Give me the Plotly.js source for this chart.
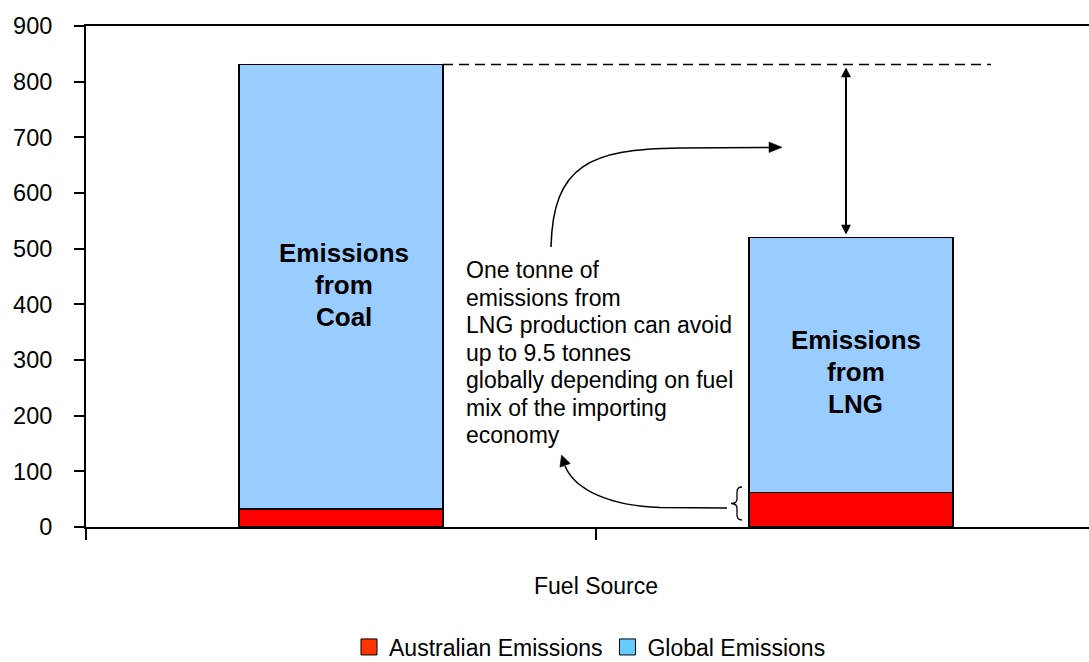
<!DOCTYPE html>
<html><head><meta charset="utf-8">
<script src="https://cdn.plot.ly/plotly-3.0.1.min.js"></script>
<style>html,body{margin:0;padding:0;background:#fff;overflow:hidden}</style>
</head><body><div id="chart" style="width:1089px;height:662px"></div>
<script>
// ---- data ----
const categories = ['Coal', 'LNG'];
const australianEmissions = [32, 62];
const globalEmissions = [799, 458];
const seriesNames = ['Australian Emissions', 'Global Emissions'];
const yTickValues = [0, 100, 200, 300, 400, 500, 600, 700, 800, 900];
const barLabels = [['Emissions', 'from', 'Coal'], ['Emissions', 'from', 'LNG']];
const noteLines = ['One tonne of', 'emissions from', 'LNG production can avoid', 'up to 9.5 tonnes',
  'globally depending on fuel', 'mix of the importing', 'economy'];
const xTitle = 'Fuel Source';

// ---- layout helpers ----
const W = 1089, H = 662, M = {l: 86, r: 0, t: 26, b: 135};
const plotW = W - M.l - M.r, plotH = H - M.t - M.b;
const catPx = 510;                       // pixel width of one category slot
const X = px => (px - M.l) / plotW;      // pixel -> paper x
const Y = py => (H - M.b - py) / plotH;  // pixel -> paper y
const p = (x, y) => X(x).toFixed(5) + ',' + Y(y).toFixed(5);
const FONT = 'Liberation Sans, Arial, Helvetica, sans-serif';
const barWidth = 0.4;
const barColors = ['#FF0000', '#99CCFF'];
const legendColors = ['#FF3300', '#66CCFF'];

const totals = categories.map((c, i) => australianEmissions[i] + globalEmissions[i]);

const traces = [
  {type: 'bar', name: seriesNames[0], x: categories, y: australianEmissions, width: barWidth, showlegend: false,
   marker: {color: barColors[0], line: {color: '#000', width: 1.5}}},
  {type: 'bar', name: seriesNames[1], x: categories, y: globalEmissions, width: barWidth, showlegend: false,
   marker: {color: barColors[1], line: {color: '#000', width: 1.5}}},
  // legend entries (larger square swatches)
  {type: 'scatter', mode: 'markers', name: seriesNames[0], x: [categories[0]], y: [null], showlegend: true,
   marker: {symbol: 'square', size: 22, color: legendColors[0], line: {color: '#000', width: 1}}},
  {type: 'scatter', mode: 'markers', name: seriesNames[1], x: [categories[0]], y: [null], showlegend: true,
   marker: {symbol: 'square', size: 22, color: legendColors[1], line: {color: '#000', width: 1}}}
];

const annotations = [];
// labels inside bars
const labelCenters = [[343.7, [253, 285, 317]], [855.5, [340, 372, 404]]];
barLabels.forEach((lines, i) => {
  lines.forEach((t, j) => {
    annotations.push({xref: 'paper', yref: 'paper', x: X(labelCenters[i][0]), y: Y(labelCenters[i][1][j]),
      xanchor: 'center', yanchor: 'middle', showarrow: false, text: '<b>' + t + '</b>',
      font: {family: FONT, size: 26, color: '#000'}});
  });
});
// note text
noteLines.forEach((t, j) => {
  annotations.push({xref: 'paper', yref: 'paper', x: X(464), y: Y(270 + 27.5 * j),
    xanchor: 'left', yanchor: 'middle', showarrow: false, text: t,
    font: {family: FONT, size: 23, color: '#000'}});
});
// x axis title
annotations.push({xref: 'x', yref: 'paper', x: 0.5, y: Y(586), xanchor: 'center', yanchor: 'middle',
  showarrow: false, text: xTitle, font: {family: FONT, size: 23, color: '#000'}});
// double-headed vertical arrow between totals
const arrowX = (846 - (M.l + catPx / 2)) / catPx;
[[totals[0], totals[1]], [totals[1], totals[0]]].forEach(([head, tail]) => {
  annotations.push({xref: 'x', yref: 'y', axref: 'x', ayref: 'y', x: arrowX, y: head, ax: arrowX, ay: tail,
    showarrow: true, arrowhead: 2, arrowsize: 1.1, arrowwidth: 1.8, arrowcolor: '#000',
    standoff: 3, startstandoff: 3, text: ''});
});

const shapes = [
  // dashed reference line at coal total
  {type: 'line', xref: 'x', yref: 'y', x0: barWidth / 2, x1: (991 - (M.l + catPx / 2)) / catPx,
   y0: totals[0], y1: totals[0], line: {color: '#000', width: 1.5, dash: '10px,6px'}},
  // top curved arrow
  {type: 'path', xref: 'paper', yref: 'paper',
   path: `M${p(551, 247)} C${p(553, 165)} ${p(590, 149)} ${p(680, 148)} L${p(771, 147.5)}`,
   line: {color: '#000', width: 1.5}},
  {type: 'path', xref: 'paper', yref: 'paper',
   path: `M${p(782, 147.3)} L${p(769, 142)} L${p(769, 152.6)} Z`,
   fillcolor: '#000', line: {color: '#000', width: 0.5}},
  // bottom curved arrow
  {type: 'path', xref: 'paper', yref: 'paper',
   path: `M${p(727, 508)} L${p(660, 507.5)} C${p(610, 506)} ${p(575, 490)} ${p(565, 466)}`,
   line: {color: '#000', width: 1.5}},
  {type: 'path', xref: 'paper', yref: 'paper',
   path: `M${p(561.5, 455)} L${p(570.3, 463.6)} L${p(559.9, 467.2)} Z`,
   fillcolor: '#000', line: {color: '#000', width: 0.5}},
  // brace
  {type: 'path', xref: 'paper', yref: 'paper',
   path: `M${p(742, 487)} Q${p(737, 487)} ${p(737, 492)} L${p(737, 499)} Q${p(737, 503.5)} ${p(731, 503.5)} ` +
         `Q${p(737, 503.5)} ${p(737, 508)} L${p(737, 515)} Q${p(737, 520)} ${p(742, 520)}`,
   line: {color: '#000', width: 1.3}}
];

const layout = {
  width: W, height: H,
  margin: {l: M.l, r: M.r, t: M.t, b: M.b, pad: 0, autoexpand: false},
  paper_bgcolor: '#fff', plot_bgcolor: '#fff',
  font: {family: FONT, size: 23, color: '#000'},
  barmode: 'stack',
  showlegend: true,
  xaxis: {type: 'category', range: [-0.5, -0.5 + plotW / catPx], tickson: 'boundaries',
    ticks: 'outside', ticklen: 11, tickwidth: 1.8, tickcolor: '#000', showticklabels: false,
    showline: true, linewidth: 2, linecolor: '#000', mirror: true, showgrid: false, zeroline: false,
    fixedrange: true},
  yaxis: {range: [0, 900], tickvals: yTickValues, ticks: 'outside', ticklen: 10, tickwidth: 1.8,
    tickcolor: '#000', showline: true, linewidth: 2, linecolor: '#000', showgrid: false, zeroline: false,
    ticklabelstandoff: 17, tickfont: {family: FONT, size: 23.5, color: '#000'}, fixedrange: true},
  legend: {orientation: 'h', x: X(590), xanchor: 'center', y: Y(647), yanchor: 'middle',
    traceorder: 'normal', itemsizing: 'trace', font: {family: FONT, size: 23, color: '#000'},
    bgcolor: 'rgba(0,0,0,0)'},
  annotations: annotations,
  shapes: shapes
};

Plotly.newPlot('chart', traces, layout, {displayModeBar: false, staticPlot: true});
</script></body></html>
